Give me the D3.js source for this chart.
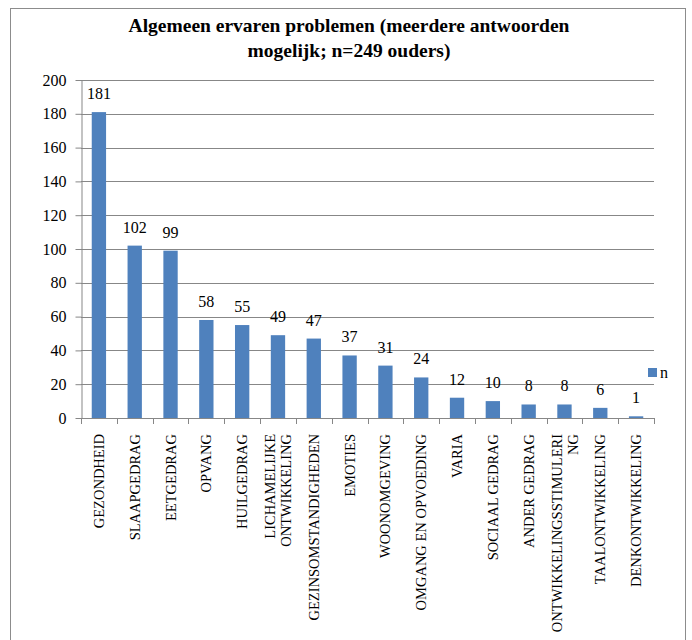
<!DOCTYPE html>
<html>
<head>
<meta charset="utf-8">
<script src="https://cdn.jsdelivr.net/npm/d3@7"></script>
<style>
  html, body { margin: 0; padding: 0; background: #fff; }
  svg { display: block; }
  svg text { font-family: "Liberation Serif", "Times New Roman", "DejaVu Serif", serif; }
</style>
</head>
<body>
<script>
// Problem categories (label lines) and counts
const categories = [
  ["GEZONDHEID"],
  ["SLAAPGEDRAG"],
  ["EETGEDRAG"],
  ["OPVANG"],
  ["HUILGEDRAG"],
  ["LICHAMELIJKE", "ONTWIKKELING"],
  ["GEZINSOMSTANDIGHEDEN"],
  ["EMOTIES"],
  ["WOONOMGEVING"],
  ["OMGANG EN OPVOEDING"],
  ["VARIA"],
  ["SOCIAAL GEDRAG"],
  ["ANDER GEDRAG"],
  ["ONTWIKKELINGSSTIMULERI", "NG"],
  ["TAALONTWIKKELING"],
  ["DENKONTWIKKELING"]
];
const values = [181, 102, 99, 58, 55, 49, 47, 37, 31, 24, 12, 10, 8, 8, 6, 1];
const yTicks = [0, 20, 40, 60, 80, 100, 120, 140, 160, 180, 200];
const seriesName = "n";
const titleLines = ["Algemeen ervaren problemen (meerdere antwoorden", "mogelijk; n=249 ouders)"];

const W = 692, H = 640;
const barColor = "#4F81BD";

const svg = d3.select("body").append("svg")
  .attr("width", W).attr("height", H);

// Chart frame
svg.append("rect")
  .attr("x", 10.5).attr("y", 8.5)
  .attr("width", 675).attr("height", 640)
  .attr("fill", "#fff").attr("stroke", "#8c8c8c").attr("stroke-width", 1);

// Title
svg.append("g").selectAll("text").data(titleLines).join("text")
  .attr("x", 349).attr("y", (d, i) => 32 + i * 25)
  .attr("text-anchor", "middle")
  .attr("font-weight", "bold").attr("font-size", 19.5)
  .attr("fill", "#000")
  .text(d => d);

const plot = { left: 81, right: 654, top: 80, bottom: 418 };

const x = d3.scaleBand()
  .domain(d3.range(categories.length))
  .range([plot.left, plot.right])
  .paddingInner(0.6).paddingOuter(0.3);

const y = d3.scaleLinear().domain([0, 200]).range([plot.bottom, plot.top]);

// Horizontal gridlines
svg.append("g").selectAll("line").data(yTicks.filter(t => t > 0)).join("line")
  .attr("x1", plot.left).attr("x2", plot.right)
  .attr("y1", d => Math.round(y(d)) + 0.5).attr("y2", d => Math.round(y(d)) + 0.5)
  .attr("stroke", "#878787").attr("stroke-width", 1);

// Bars
svg.append("g").selectAll("rect").data(values).join("rect")
  .attr("x", (d, i) => x(i))
  .attr("width", x.bandwidth())
  .attr("y", d => y(d))
  .attr("height", d => y(0) - y(d))
  .attr("fill", barColor);

// Value labels
svg.append("g").selectAll("text").data(values).join("text")
  .attr("x", (d, i) => x(i) + x.bandwidth() / 2)
  .attr("y", d => y(d) - 13)
  .attr("text-anchor", "middle")
  .attr("font-size", 16).attr("fill", "#000")
  .text(d => d);

// Y axis
const yAxis = svg.append("g")
  .attr("transform", `translate(${plot.left + 0.5},0)`)
  .call(d3.axisLeft(y).tickValues(yTicks).tickSize(6).tickPadding(9).tickSizeOuter(0));
yAxis.attr("font-family", null);
yAxis.select(".domain").attr("stroke", "#878787");
yAxis.selectAll(".tick line").attr("stroke", "#878787");
yAxis.selectAll(".tick text")
  .attr("font-size", 16).attr("fill", "#000");

// X axis: ticks at category boundaries
const boundaries = d3.range(categories.length + 1).map(i => plot.left + (plot.right - plot.left) * i / categories.length);
const xg = svg.append("g");
xg.append("line")
  .attr("x1", plot.left).attr("x2", plot.right)
  .attr("y1", plot.bottom + 0.5).attr("y2", plot.bottom + 0.5)
  .attr("stroke", "#878787");
xg.selectAll("line.tk").data(boundaries).join("line").attr("class", "tk")
  .attr("x1", d => Math.round(d) + 0.5).attr("x2", d => Math.round(d) + 0.5)
  .attr("y1", plot.bottom).attr("y2", plot.bottom + 6)
  .attr("stroke", "#878787");

// Rotated category labels
const lineH = 16;
const lbl = xg.selectAll("g.lbl").data(categories).join("g").attr("class", "lbl")
  .attr("transform", (d, i) => `translate(${x(i) + x.bandwidth() / 2},434) rotate(-90)`);
lbl.each(function (lines) {
  const g = d3.select(this);
  const n = lines.length;
  lines.forEach((t, k) => {
    g.append("text")
      .attr("x", 0)
      .attr("y", (k - (n - 1) / 2) * lineH)
      .attr("dy", "0.35em")
      .attr("text-anchor", "end")
      .attr("font-size", 14.5).attr("fill", "#000")
      .text(t);
  });
});

// Legend
const lg = svg.append("g").attr("transform", "translate(648,368)");
lg.append("rect").attr("width", 9).attr("height", 9).attr("fill", barColor);
lg.append("text").attr("x", 12).attr("y", 10)
  .attr("font-size", 16).attr("fill", "#000")
  .text(seriesName);
</script>
</body>
</html>
